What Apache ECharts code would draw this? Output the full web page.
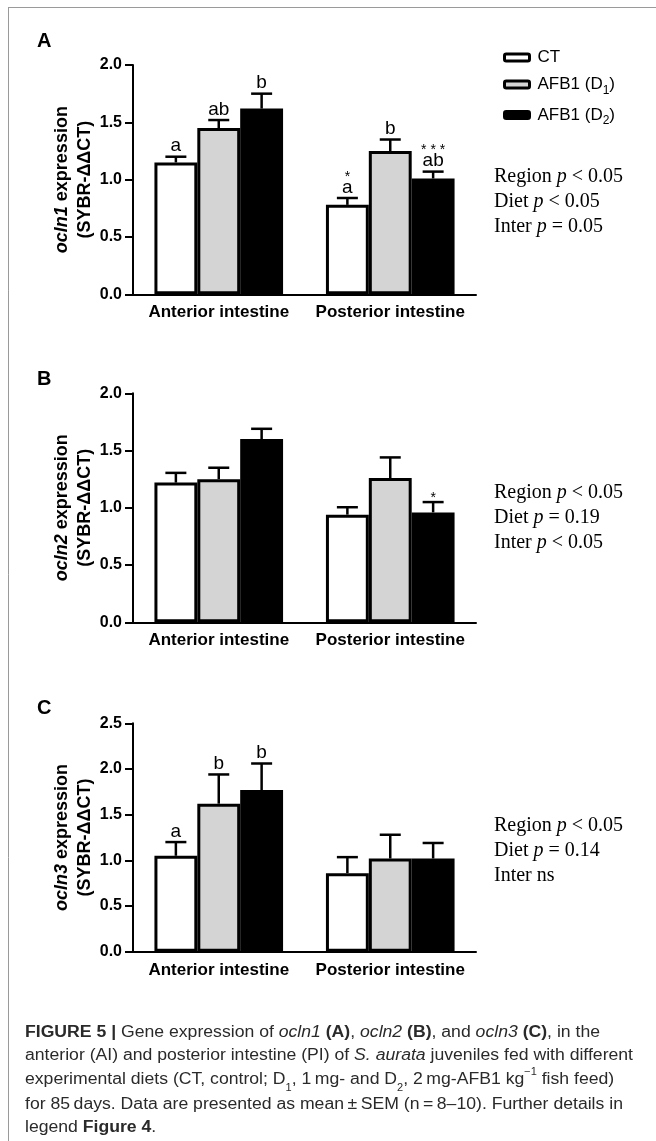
<!DOCTYPE html>
<html>
<head>
<meta charset="utf-8">
<script src="https://cdn.jsdelivr.net/npm/echarts@6/dist/echarts.min.js"></script>
<style>
  html, body { margin: 0; padding: 0; background: #fff; }
  #chart { width: 656px; height: 1141px; }
</style>
</head>
<body>
<div id="chart"></div>
<script>
// categories and groups
const regions = ['Anterior intestine', 'Posterior intestine'];
const diets = ['CT', 'AFB1 (D1)', 'AFB1 (D2)'];

// A: ocln1 (mean, SEM, letters, stars)
const ocln1CT = [1.15, 0.78];
const ocln1D1 = [1.45, 1.25];
const ocln1D2 = [1.62, 1.01];
const ocln1CTSem = [0.05, 0.06];
const ocln1D1Sem = [0.07, 0.10];
const ocln1D2Sem = [0.13, 0.06];
const ocln1Letters = [['a', 'a'], ['ab', 'b'], ['b', 'ab']];
const ocln1Stars = [['', '*'], ['', ''], ['', '* * *']];
const ocln1Stats = ['Region p < 0.05', 'Diet p < 0.05', 'Inter p = 0.05'];

// B: ocln2
const ocln2CT = [1.22, 0.94];
const ocln2D1 = [1.25, 1.26];
const ocln2D2 = [1.60, 0.96];
const ocln2CTSem = [0.085, 0.065];
const ocln2D1Sem = [0.10, 0.18];
const ocln2D2Sem = [0.09, 0.09];
const ocln2Letters = [['', ''], ['', ''], ['', '']];
const ocln2Stars = [['', ''], ['', ''], ['', '*']];
const ocln2Stats = ['Region p < 0.05', 'Diet p = 0.19', 'Inter p < 0.05'];

// C: ocln3
const ocln3CT = [1.05, 0.86];
const ocln3D1 = [1.62, 1.02];
const ocln3D2 = [1.77, 1.02];
const ocln3CTSem = [0.15, 0.175];
const ocln3D1Sem = [0.32, 0.26];
const ocln3D2Sem = [0.29, 0.17];
const ocln3Letters = [['a', ''], ['b', ''], ['b', '']];
const ocln3Stars = [['', ''], ['', ''], ['', '']];
const ocln3Stats = ['Region p < 0.05', 'Diet p = 0.14', 'Inter ns'];

// y tick labels
const yTicksAB = [0, 0.5, 1.0, 1.5, 2.0];
const yTicksC = [0, 0.5, 1.0, 1.5, 2.0, 2.5];

const panels = [
  { tag: 'A', gene: 'ocln1', means: [ocln1CT, ocln1D1, ocln1D2], sems: [ocln1CTSem, ocln1D1Sem, ocln1D2Sem],
    letters: ocln1Letters, stars: ocln1Stars, stats: ocln1Stats, ticks: yTicksAB },
  { tag: 'B', gene: 'ocln2', means: [ocln2CT, ocln2D1, ocln2D2], sems: [ocln2CTSem, ocln2D1Sem, ocln2D2Sem],
    letters: ocln2Letters, stars: ocln2Stars, stats: ocln2Stats, ticks: yTicksAB },
  { tag: 'C', gene: 'ocln3', means: [ocln3CT, ocln3D1, ocln3D2], sems: [ocln3CTSem, ocln3D1Sem, ocln3D2Sem],
    letters: ocln3Letters, stars: ocln3Stars, stats: ocln3Stats, ticks: yTicksC },
];

// layout / style
const SANS = '"Liberation Sans", Arial, sans-serif';
const SERIF = '"Liberation Serif", "Times New Roman", serif';
const fills = ['#ffffff', '#d4d4d4', '#000000'];
const gridTops = [65, 393.3, 723.3];
const gridHeights = [229.3, 229, 228.4];
const tagY = [41, 379, 708];
const statsY = [202, 518, 851];

function errorRender(panel) {
  return function (params, api) {
    const c = api.value(0);
    const k = api.value(3);
    const mean = api.value(1);
    const band = api.size([1, 0])[0];
    const bw = band * 0.75 / 3;
    const base = api.coord([c, mean]);
    const x = base[0] + (k - 1) * bw;
    const yTop = api.coord([c, mean + api.value(2)])[1];
    const line = { stroke: '#000', lineWidth: 2.5 };
    const children = [
      { type: 'line', shape: { x1: x, y1: base[1], x2: x, y2: yTop }, style: line },
      { type: 'line', shape: { x1: x - 10.5, y1: yTop, x2: x + 10.5, y2: yTop }, style: line },
    ];
    const letter = panel.letters[k][c];
    const star = panel.stars[k][c];
    if (letter) {
      children.push({ type: 'text', x: x, y: yTop - 1,
        style: { text: letter, fontFamily: SANS, fontSize: 19, fill: '#000', align: 'center', verticalAlign: 'bottom' } });
    }
    if (star) {
      children.push({ type: 'text', x: x, y: yTop - (letter ? 28 : 11),
        style: { text: star, fontFamily: SANS, fontSize: 14, fill: '#000', align: 'center', verticalAlign: 'top' } });
    }
    return { type: 'group', children: children };
  };
}

const grids = [], xAxes = [], yAxes = [], series = [], graphics = [];

panels.forEach(function (p, i) {
  grids.push({ left: 133, right: 180, top: gridTops[i], height: gridHeights[i] });
  xAxes.push({
    type: 'category', gridIndex: i, data: regions,
    axisLine: { lineStyle: { color: '#000', width: 2 } },
    axisTick: { alignWithLabel: true, interval: 0, length: 6, lineStyle: { color: '#000', width: 2 } },
    axisLabel: { interval: 0, hideOverlap: false, color: '#000', fontFamily: SANS, fontWeight: 'bold', fontSize: 17, margin: 10 },
  });
  yAxes.push({
    type: 'value', gridIndex: i,
    min: p.ticks[0], max: p.ticks[p.ticks.length - 1], interval: p.ticks[1] - p.ticks[0],
    splitLine: { show: false },
    axisLine: { show: true, lineStyle: { color: '#000', width: 2 } },
    axisTick: { show: true, length: 8, lineStyle: { color: '#000', width: 2 } },
    axisLabel: { color: '#000', fontFamily: SANS, fontWeight: 'bold', fontSize: 16, margin: 11,
      formatter: function (v) { return v.toFixed(1); } },
    name: '{i|' + p.gene + '} expression\n(SYBR-ΔΔCT)',
    nameLocation: 'middle', nameRotate: 90, nameGap: 36, nameMoveOverlap: false,
    nameTextStyle: { color: '#000', fontFamily: SANS, fontWeight: 'bold', fontSize: 18, lineHeight: 23,
      rich: { i: { fontFamily: SANS, fontWeight: 'bold', fontStyle: 'italic', fontSize: 18, lineHeight: 23, color: '#000' } } },
  });
  const errData = [];
  diets.forEach(function (d, k) {
    series.push({
      type: 'bar', name: d, xAxisIndex: i, yAxisIndex: i,
      data: p.means[k], barGap: '0%', barCategoryGap: '25%',
      itemStyle: { color: fills[k], borderColor: '#000', borderWidth: 3 },
      emphasis: { disabled: true },
    });
    p.means[k].forEach(function (m, c) { errData.push([c, m, p.sems[k][c], k]); });
  });
  series.push({
    type: 'custom', xAxisIndex: i, yAxisIndex: i, z: 5, silent: true,
    encode: { x: 0, y: 1 }, data: errData, renderItem: errorRender(p),
  });
  graphics.push({ type: 'text', x: 37, y: tagY[i],
    style: { text: p.tag, fontFamily: SANS, fontWeight: 'bold', fontSize: 20, fill: '#000', verticalAlign: 'middle' } });
  graphics.push({ type: 'text', x: 494, y: statsY[i],
    style: { text: p.stats.map(function (s) { return s.replace(' p ', ' {i|p} '); }).join('\n'),
      fontFamily: SERIF, fontSize: 20, lineHeight: 25, fill: '#000', verticalAlign: 'middle',
      rich: { i: { fontFamily: SERIF, fontStyle: 'italic', fontSize: 20, lineHeight: 25, fill: '#000' } } } });
});

// caption
const captionLines = [
  '{b|FIGURE 5 |} Gene expression of {i|ocln1} {b|(A)}, {i|ocln2} {b|(B)}, and {i|ocln3} {b|(C)}, in the',
  'anterior (AI) and posterior intestine (PI) of {i|S. aurata} juveniles fed with different',
  'experimental diets (CT, control; D{sub|1}, 1\u2009mg- and D{sub|2}, 2\u2009mg-AFB1 kg{sup|\u22121} fish feed)',
  'for 85\u2009days. Data are presented as mean\u2009±\u2009SEM (n\u2009=\u20098–10). Further details in',
  'legend {b|Figure 4}.',
];
const capSize = 16;
const ctx = document.createElement('canvas').getContext('2d');
ctx.font = capSize + 'px ' + SANS;
const capScale = 608 / ctx.measureText('anterior (AI) and posterior intestine (PI) of S. aurata juveniles fed with different').width;

graphics.push({ type: 'line', shape: { x1: 8, y1: 7.5, x2: 656, y2: 7.5 }, style: { stroke: '#9a9a9a', lineWidth: 1 } });
graphics.push({ type: 'line', shape: { x1: 8.5, y1: 7.5, x2: 8.5, y2: 1141 }, style: { stroke: '#9a9a9a', lineWidth: 1 } });
graphics.push({
  type: 'text', x: 25, y: 1021, scaleX: capScale,
  style: {
    text: captionLines.join('\n'), fontFamily: SANS, fontSize: capSize, lineHeight: 23, fill: '#2a2a2a',
    verticalAlign: 'top',
    rich: {
      b: { fontFamily: SANS, fontWeight: 'bold', fontSize: capSize, lineHeight: 23, fill: '#2a2a2a' },
      i: { fontFamily: SANS, fontStyle: 'italic', fontSize: capSize, lineHeight: 23, fill: '#2a2a2a' },
      sub: { fontFamily: SANS, fontSize: 10, lineHeight: 20, verticalAlign: 'bottom', fill: '#2a2a2a' },
      sup: { fontFamily: SANS, fontSize: 10, lineHeight: 26, verticalAlign: 'top', fill: '#2a2a2a' },
    },
  },
});

const chart = echarts.init(document.getElementById('chart'), null, { renderer: 'canvas' });
chart.setOption({
  animation: false,
  backgroundColor: '#fff',
  grid: grids,
  xAxis: xAxes,
  yAxis: yAxes,
  legend: {
    data: diets, orient: 'vertical', left: 498, top: 44, itemWidth: 25, itemHeight: 7, itemGap: 10,
    icon: 'roundRect', selectedMode: false,
    itemStyle: { borderColor: '#000', borderWidth: 3 },
    textStyle: { color: '#000', fontFamily: SANS, fontSize: 17, padding: [0, 0, 0, 3],
      rich: { sub: { fontFamily: SANS, fontSize: 12, lineHeight: 24, verticalAlign: 'bottom', color: '#000' } } },
    formatter: function (name) { return name.replace(/\(D(\d)\)/, '(D{sub|$1})'); },
  },
  series: series,
  graphic: graphics,
});
</script>
</body>
</html>
